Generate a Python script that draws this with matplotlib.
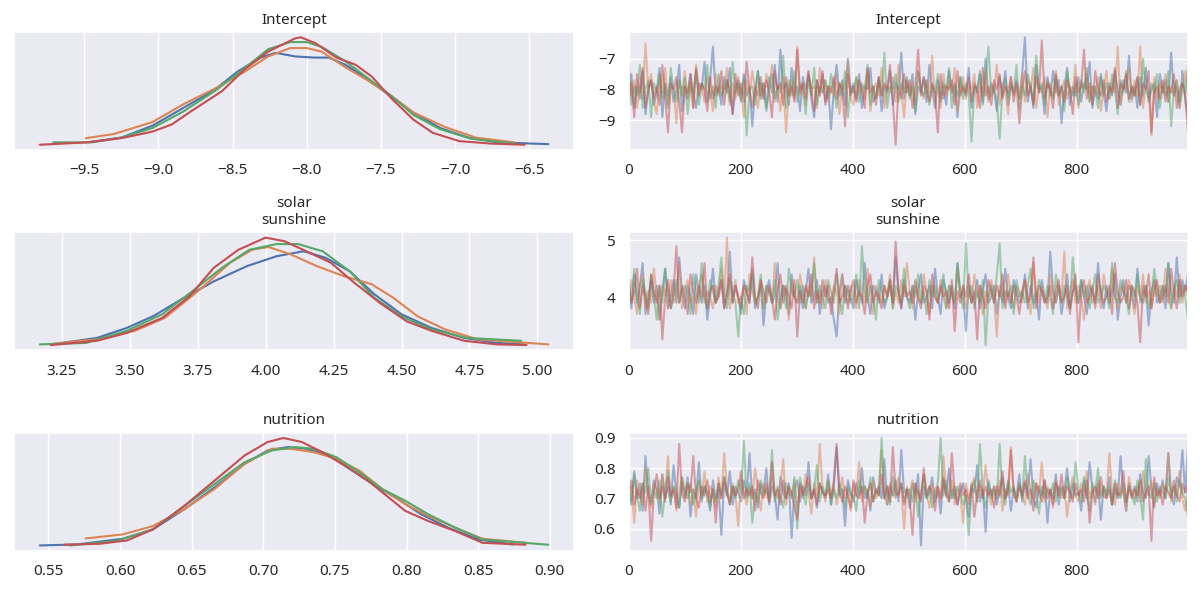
import numpy as np
import matplotlib
matplotlib.use("Agg")
import matplotlib.pyplot as plt
import seaborn as sns
from matplotlib.ticker import MultipleLocator

# =========================
# DATA
# =========================
params = ["Intercept", "solar\nsunshine", "nutrition"]
chain_colors = ["#4C72B0", "#DD8452", "#55A868", "#C44E52"]  # blue, orange, green, red

# KDE curves (x, density) per chain
icpt_kde_x = [
    [-9.45, -9.25, -9.04, -8.83, -8.62, -8.47, -8.31, -8.21, -8.08, -7.95, -7.85, -7.74, -7.61, -7.46, -7.28, -7.10, -6.91, -6.71, -6.37],
    [-9.49, -9.30, -9.04, -8.83, -8.62, -8.42, -8.26, -8.11, -8.00, -7.90, -7.74, -7.59, -7.43, -7.28, -7.07, -6.86, -6.60],
    [-9.71, -9.45, -9.25, -9.04, -8.83, -8.62, -8.42, -8.26, -8.11, -8.00, -7.90, -7.74, -7.59, -7.43, -7.28, -7.10, -6.89, -6.60],
    [-9.80, -9.48, -9.25, -9.04, -8.91, -8.78, -8.57, -8.42, -8.26, -8.08, -8.04, -7.94, -7.80, -7.67, -7.56, -7.43, -7.28, -7.15, -6.97, -6.76, -6.53],
]
icpt_kde_y = [
    [0.025, 0.06, 0.16, 0.31, 0.46, 0.61, 0.73, 0.77, 0.74, 0.73, 0.73, 0.67, 0.57, 0.43, 0.27, 0.14, 0.06, 0.02, 0.005],
    [0.055, 0.09, 0.19, 0.34, 0.47, 0.61, 0.74, 0.81, 0.81, 0.78, 0.65, 0.54, 0.41, 0.27, 0.15, 0.06, 0.02],
    [0.02, 0.02, 0.06, 0.14, 0.28, 0.45, 0.64, 0.80, 0.86, 0.86, 0.82, 0.70, 0.56, 0.41, 0.25, 0.13, 0.05, 0.01],
    [0.0, 0.02, 0.055, 0.11, 0.17, 0.28, 0.45, 0.63, 0.78, 0.89, 0.90, 0.85, 0.73, 0.67, 0.57, 0.39, 0.21, 0.10, 0.03, 0.01, 0.0],
]

solar_kde_x = [
    [3.25, 3.38, 3.49, 3.59, 3.70, 3.81, 3.93, 4.04, 4.14, 4.22, 4.31, 4.40, 4.50, 4.61, 4.73, 4.85, 4.95],
    [3.22, 3.38, 3.52, 3.63, 3.76, 3.87, 3.95, 4.01, 4.09, 4.19, 4.29, 4.39, 4.47, 4.56, 4.66, 4.78, 5.04],
    [3.17, 3.34, 3.49, 3.62, 3.73, 3.84, 3.94, 4.04, 4.12, 4.21, 4.31, 4.40, 4.50, 4.61, 4.74, 4.94],
    [3.21, 3.38, 3.49, 3.62, 3.72, 3.81, 3.90, 4.00, 4.07, 4.15, 4.24, 4.32, 4.42, 4.52, 4.61, 4.73, 4.85, 4.96],
]
solar_kde_y = [
    [0.03, 0.10, 0.24, 0.41, 0.66, 0.89, 1.10, 1.24, 1.31, 1.22, 1.03, 0.71, 0.43, 0.24, 0.10, 0.03, 0.01],
    [0.02, 0.08, 0.20, 0.38, 0.78, 1.15, 1.33, 1.37, 1.27, 1.10, 0.96, 0.85, 0.66, 0.40, 0.22, 0.08, 0.01],
    [0.01, 0.03, 0.20, 0.43, 0.75, 1.08, 1.33, 1.41, 1.41, 1.31, 1.03, 0.66, 0.40, 0.22, 0.10, 0.06],
    [0.0, 0.06, 0.17, 0.38, 0.68, 1.08, 1.33, 1.50, 1.45, 1.31, 1.15, 0.89, 0.59, 0.33, 0.20, 0.06, 0.01, 0.0],
]

nutr_kde_x = [
    [0.544, 0.570, 0.602, 0.623, 0.645, 0.666, 0.687, 0.703, 0.717, 0.730, 0.746, 0.762, 0.778, 0.794, 0.810, 0.829, 0.850, 0.874],
    [0.576, 0.602, 0.623, 0.645, 0.666, 0.687, 0.706, 0.719, 0.735, 0.751, 0.767, 0.783, 0.799, 0.815, 0.834, 0.853, 0.883],
    [0.565, 0.597, 0.623, 0.645, 0.666, 0.687, 0.706, 0.722, 0.735, 0.751, 0.767, 0.783, 0.799, 0.815, 0.834, 0.853, 0.899],
    [0.561, 0.586, 0.605, 0.623, 0.645, 0.666, 0.687, 0.703, 0.714, 0.727, 0.741, 0.757, 0.773, 0.786, 0.799, 0.815, 0.834, 0.853, 0.883],
]
nutr_kde_y = [
    [0.0, 0.07, 0.48, 1.15, 2.60, 4.16, 5.84, 6.80, 7.04, 6.92, 6.44, 5.36, 4.28, 3.32, 2.24, 1.27, 0.43, 0.07],
    [0.50, 0.79, 1.39, 2.60, 4.04, 5.84, 6.92, 6.92, 6.68, 6.20, 5.36, 4.04, 2.96, 2.12, 1.27, 0.48, 0.19],
    [0.0, 0.31, 1.15, 2.84, 4.40, 5.96, 6.80, 7.04, 6.92, 6.32, 5.24, 4.04, 3.20, 2.24, 1.27, 0.43, 0.05],
    [0.05, 0.12, 0.36, 1.15, 2.84, 4.64, 6.44, 7.40, 7.69, 7.40, 6.68, 5.72, 4.64, 3.56, 2.48, 1.75, 1.03, 0.19, 0.05],
]

# trace values (every 5th draw, estimated from the right column)
icpt_trace = [
    [-8.2,-7.5,-8.6,-7.9,-8.3,-7.4,-8.8,-8.0,-7.7,-8.5, -8.1,-7.3,-8.9,-7.8,-8.2,-7.6,-8.4,-8.0,-7.2,-8.7,
     -7.9,-8.3,-7.5,-8.1,-8.6,-7.8,-8.0,-7.1,-8.4,-7.7, -6.6,-8.2,-7.9,-8.5,-7.6,-8.1,-7.3,-8.8,-8.0,-7.7,
     -8.4,-7.5,-8.2,-7.9,-9.2,-8.0,-7.4,-8.3,-7.8,-8.6, -7.6,-8.1,-7.2,-8.4,-6.7,-8.0,-7.8,-8.5,-7.3,-8.2,
     -7.9,-8.7,-7.6,-8.0,-7.4,-8.3,-8.9,-7.7,-8.1,-7.5, -8.4,-7.9,-9.3,-8.0,-7.2,-8.2,-7.7,-8.5,-7.0,-8.1,
     -7.8,-8.3,-7.5,-8.6,-7.9,-8.0,-7.3,-8.4,-8.2,-7.6, -8.7,-7.9,-8.1,-7.4,-8.5,-7.8,-8.0,-6.8,-8.3,-7.7,
     -8.2,-7.5,-8.8,-7.9,-8.1,-7.6,-8.4,-7.2,-8.0,-8.6, -7.7,-8.3,-7.9,-8.5,-7.4,-8.1,-7.8,-8.9,-7.6,-8.0,
     -8.2,-7.3,-8.6,-7.9,-8.1,-7.5,-8.4,-7.0,-8.3,-7.8, -8.0,-8.7,-7.6,-8.2,-7.4,-8.5,-7.9,-8.1,-7.7,-8.3,
     -7.5,-6.3,-8.4,-7.8,-8.6,-7.2,-8.0,-7.9,-8.8,-7.6, -8.2,-7.4,-8.1,-7.7,-9.1,-8.0,-7.3,-8.5,-7.9,-8.2,
     -7.6,-8.4,-7.8,-8.0,-7.1,-8.6,-7.9,-8.3,-7.5,-8.1, -8.7,-7.8,-8.2,-7.4,-8.0,-8.5,-7.7,-8.1,-6.9,-8.3,
     -7.9,-8.6,-7.6,-8.2,-7.3,-8.4,-8.0,-7.8,-8.9,-7.5, -8.1,-7.7,-8.4,-6.8,-8.2,-7.9,-8.6,-7.4,-8.3,-8.9],
    [-7.1,-8.2,-7.7,-8.6,-7.9,-8.3,-6.5,-8.0,-7.5,-8.4, -8.8,-7.6,-8.1,-7.3,-8.5,-7.9,-8.0,-9.1,-7.7,-8.2,
     -7.4,-8.3,-7.8,-8.6,-7.2,-8.0,-7.9,-8.4,-7.6,-8.1, -8.7,-7.5,-8.2,-7.9,-8.0,-7.3,-8.5,-7.8,-8.3,-7.6,
     -8.1,-8.9,-7.7,-8.2,-7.4,-8.0,-8.6,-7.8,-8.3,-7.5, -8.0,-7.2,-8.4,-7.9,-8.7,-7.6,-9.4,-8.1,-7.7,-8.3,
     -6.6,-8.2,-7.8,-8.5,-7.4,-8.0,-7.9,-8.6,-7.3,-8.1, -7.7,-8.4,-7.9,-8.2,-7.5,-8.8,-7.8,-8.0,-7.1,-8.3,
     -8.5,-7.6,-8.1,-7.9,-8.3,-7.4,-8.7,-8.0,-7.8,-8.2, -7.3,-8.6,-7.9,-8.1,-7.6,-8.4,-7.2,-8.0,-8.9,-7.7,
     -8.2,-7.8,-8.5,-7.4,-8.0,-8.3,-7.7,-8.1,-6.9,-8.4, -7.9,-8.6,-7.5,-8.2,-7.8,-8.0,-7.3,-8.7,-8.1,-7.6,
     -8.3,-7.9,-8.0,-7.5,-8.6,-7.8,-8.2,-7.4,-8.4,-7.9, -8.1,-7.2,-8.5,-7.8,-8.0,-8.8,-7.6,-8.2,-7.9,-8.3,
     -7.5,-8.4,-7.7,-8.0,-7.3,-8.6,-7.9,-8.1,-7.6,-8.9, -7.8,-8.2,-7.4,-8.5,-8.0,-7.7,-8.3,-7.9,-8.1,-7.2,
     -8.6,-7.8,-8.0,-7.5,-8.4,-7.9,-8.2,-7.6,-8.7,-8.0, -7.4,-8.3,-7.8,-8.1,-6.6,-8.5,-7.9,-8.0,-7.3,-8.4,
     -7.7,-8.2,-6.6,-8.6,-7.9,-8.0,-9.5,-7.6,-8.3,-7.8, -8.1,-7.5,-8.4,-7.9,-8.2,-7.7,-8.6,-8.0,-7.4,-8.3],
    [-7.4,-8.5,-7.9,-8.2,-7.2,-8.6,-8.0,-7.7,-8.9,-7.8, -8.1,-7.5,-8.3,-7.9,-8.6,-7.3,-8.0,-8.4,-7.7,-8.2,
     -7.6,-8.8,-7.9,-8.1,-7.4,-8.5,-7.8,-8.0,-7.2,-8.3, -7.9,-8.6,-7.5,-8.2,-8.0,-7.7,-8.4,-7.1,-8.1,-7.8,
     -8.3,-7.6,-9.5,-8.0,-7.9,-8.5,-7.4,-8.2,-7.8,-8.7, -8.0,-7.5,-8.3,-7.9,-8.1,-6.9,-8.6,-7.7,-8.2,-7.4,
     -8.4,-7.8,-8.0,-8.8,-7.6,-8.2,-7.3,-8.5,-7.9,-8.1, -7.7,-8.3,-7.5,-8.0,-8.6,-7.8,-8.2,-7.4,-8.9,-7.9,
     -8.1,-7.6,-8.4,-7.8,-8.0,-7.2,-8.5,-7.9,-8.3,-7.7, -8.2,-6.8,-8.6,-7.9,-8.0,-7.5,-8.4,-7.8,-8.1,-7.6,
     -8.3,-7.9,-8.7,-7.4,-8.0,-8.2,-7.7,-8.5,-7.9,-8.1, -7.5,-8.4,-7.8,-8.0,-7.3,-8.6,-7.9,-8.2,-7.6,-8.3,
     -7.8,-8.1,-9.7,-7.9,-8.0,-7.4,-8.5,-7.7,-6.6,-8.2, -7.9,-8.4,-9.6,-8.0,-7.6,-8.3,-7.8,-8.1,-7.2,-8.6,
     -7.9,-8.2,-7.5,-8.0,-8.4,-6.9,-8.1,-7.8,-8.5,-7.7, -8.0,-8.3,-7.6,-8.2,-7.9,-8.7,-7.4,-8.0,-8.2,-7.8,
     -8.5,-7.7,-8.1,-7.3,-8.4,-7.9,-8.0,-8.6,-7.6,-8.2, -7.8,-8.3,-7.5,-8.0,-8.8,-7.7,-8.1,-7.4,-8.4,-7.9,
     -8.2,-7.6,-8.5,-7.0,-8.0,-8.3,-7.8,-8.1,-7.5,-8.6, -7.9,-8.2,-7.4,-9.2,-8.0,-7.7,-8.4,-7.8,-8.1,-7.2],
    [-8.4,-7.8,-8.9,-7.5,-8.1,-7.3,-8.6,-8.0,-7.7,-8.3, -7.9,-8.5,-7.2,-8.2,-9.4,-7.8,-8.0,-7.6,-8.4,-9.4,
     -7.9,-8.1,-7.5,-8.6,-7.3,-8.2,-7.8,-8.0,-8.7,-7.6, -8.3,-7.9,-8.1,-7.4,-8.5,-7.7,-8.0,-8.8,-7.5,-8.2,
     -7.8,-8.4,-7.1,-8.0,-8.6,-7.9,-8.2,-7.6,-8.3,-7.7, -8.1,-8.9,-7.4,-8.0,-7.8,-8.5,-7.6,-8.2,-7.9,-8.4,
     -6.7,-8.1,-7.8,-8.3,-7.5,-8.0,-8.7,-7.7,-8.2,-7.4, -8.5,-7.9,-8.1,-7.6,-8.3,-7.8,-8.0,-9.2,-7.5,-8.2,
     -7.9,-8.4,-7.7,-8.0,-8.6,-7.3,-8.1,-7.9,-8.5,-7.6, -8.2,-7.8,-8.0,-7.2,-8.4,-9.8,-7.9,-8.3,-7.5,-8.1,
     -7.7,-8.6,-7.9,-6.7,-8.2,-7.6,-8.0,-8.4,-7.8,-8.1, -9.4,-7.5,-8.3,-7.9,-8.0,-7.7,-8.5,-7.4,-8.2,-7.9,
     -8.1,-7.6,-8.4,-7.8,-8.0,-8.6,-7.3,-8.2,-7.9,-8.5, -7.7,-8.0,-7.5,-8.3,-7.9,-8.1,-7.6,-8.4,-7.8,-9.1,
     -8.0,-7.4,-8.2,-7.9,-8.5,-7.6,-8.1,-6.4,-8.3,-7.8, -8.0,-8.6,-7.5,-8.2,-7.9,-8.4,-7.7,-8.0,-8.8,-7.6,
     -8.1,-7.9,-6.7,-8.3,-7.8,-8.5,-7.4,-8.0,-8.2,-7.7, -8.4,-7.9,-8.1,-7.3,-8.6,-7.8,-8.0,-7.5,-8.3,-7.9,
     -8.2,-7.6,-8.5,-7.8,-8.0,-7.4,-9.4,-8.1,-7.9,-8.3, -7.7,-8.4,-7.9,-8.1,-7.5,-8.6,-8.0,-7.8,-8.2,-9.4],
]

solar_trace = [
    [4.1,3.8,4.4,3.9,4.2,4.6,3.7,4.0,4.3,3.9, 4.2,3.6,4.1,4.5,3.8,4.0,4.3,3.9,4.7,4.1,
     3.8,4.2,4.0,3.7,4.4,4.1,3.9,4.2,3.6,4.0, 4.5,3.9,4.1,4.3,3.8,4.0,4.8,3.9,4.2,4.0,
     3.7,4.3,4.1,3.9,4.4,3.8,4.0,4.2,3.5,4.1, 4.3,3.9,4.0,4.6,3.8,4.2,4.1,3.7,4.4,4.0,
     3.9,4.2,3.8,4.1,4.5,3.9,4.0,4.3,3.7,4.1, 4.2,3.9,4.0,3.6,3.3,4.1,4.4,3.9,4.2,4.0,
     3.8,4.3,4.1,3.9,4.6,4.0,3.7,4.2,4.1,3.9, 4.4,3.8,4.0,4.2,3.9,4.7,4.1,3.8,4.3,4.0,
     3.9,4.2,3.6,4.1,4.4,3.9,4.0,4.2,3.8,4.5, 4.0,3.7,4.3,4.1,3.9,4.2,3.8,4.6,4.0,4.1,
     3.4,4.2,3.9,4.0,4.3,3.8,4.1,4.4,3.9,4.0, 4.2,3.7,4.1,3.9,4.5,4.0,3.8,4.3,4.1,3.9,
     4.0,4.4,3.8,4.2,3.9,4.1,3.6,4.3,4.0,3.9, 4.8,4.1,3.9,4.2,3.7,4.0,4.4,3.8,4.1,4.2,
     3.9,4.3,4.0,3.7,4.2,4.1,3.9,4.6,4.0,3.8, 4.2,3.9,4.1,4.4,3.6,4.0,4.3,3.9,4.2,4.1,
     3.8,4.5,4.0,3.9,4.2,3.5,4.1,4.3,3.9,4.0, 4.2,3.8,4.6,4.1,3.9,4.7,4.0,4.3,4.1,4.4],
    [3.9,4.3,4.0,3.7,4.2,4.4,3.8,4.1,3.9,4.5, 4.0,3.6,4.2,4.1,3.8,4.3,3.9,4.0,4.6,3.8,
     4.1,4.3,3.9,4.0,3.7,4.2,4.4,3.9,4.1,4.0, 3.8,4.2,4.0,4.5,3.9,5.05,3.8,4.1,4.3,3.9,
     4.0,4.2,3.7,4.4,4.1,3.9,4.0,4.3,3.8,4.2, 4.1,3.9,4.6,4.0,3.8,4.2,4.1,3.6,4.3,4.0,
     3.9,4.4,4.1,3.8,4.2,4.0,4.7,3.9,4.1,3.8, 4.3,4.0,3.9,4.2,4.1,3.7,4.4,4.0,3.9,4.2,
     4.0,3.8,4.3,4.1,3.9,4.5,4.0,3.7,4.2,4.1, 3.9,4.2,4.0,4.4,3.8,4.1,3.9,4.3,4.0,4.6,
     4.1,3.8,4.2,4.0,3.9,4.4,4.1,3.7,4.2,4.0, 3.9,4.3,4.0,3.8,4.2,4.1,3.9,4.5,4.0,4.2,
     3.8,4.1,3.9,4.4,4.0,4.2,3.7,4.1,3.9,4.3, 4.0,3.3,4.2,4.1,3.9,4.4,4.0,3.8,4.2,4.1,
     3.9,4.3,4.0,3.7,4.6,4.1,3.9,4.2,4.0,3.8, 4.4,4.1,3.9,4.2,4.0,4.8,3.8,4.1,4.3,3.9,
     4.2,4.0,3.6,4.1,4.3,3.9,4.0,4.2,3.8,4.4, 4.1,3.9,4.5,4.0,3.8,4.2,4.1,3.9,4.3,4.0,
     3.7,4.2,4.0,4.4,3.9,4.1,3.8,4.3,4.0,4.2, 3.9,4.5,4.1,3.8,4.2,4.0,4.4,3.9,4.2,4.0],
    [4.2,3.9,4.5,4.0,3.7,4.3,4.1,3.8,4.4,4.0, 3.6,4.2,3.9,4.5,4.1,3.8,4.0,4.3,3.9,4.1,
     4.2,4.0,3.7,4.4,4.1,3.9,4.6,4.0,3.8,4.3, 4.1,3.9,4.2,4.7,4.0,3.8,4.3,4.1,3.9,3.3,
     4.0,3.7,4.2,4.1,4.5,3.9,4.0,4.4,3.8,4.2, 4.1,3.9,4.3,3.6,4.0,4.2,3.8,4.5,4.1,4.0,
     4.3,3.9,4.2,3.8,4.1,4.0,4.6,3.9,4.2,4.0, 3.8,4.3,4.1,3.9,4.4,4.0,3.7,4.2,4.1,3.9,
     4.0,4.4,3.8,4.9,4.1,3.9,4.2,4.0,3.6,4.3, 4.1,3.9,4.0,4.3,3.8,4.2,4.1,3.9,4.5,4.0,
     3.8,4.2,4.0,4.4,3.9,4.1,3.7,4.3,4.0,4.2, 3.9,4.1,4.4,3.8,4.2,4.0,3.9,4.6,4.1,3.8,
     4.95,4.0,4.2,3.8,4.1,3.9,4.3,3.15,4.0,4.2, 3.9,4.4,4.95,3.8,4.1,4.0,4.2,3.7,4.3,4.0,
     4.1,3.9,4.2,4.5,3.8,4.0,4.3,4.1,3.9,4.2, 4.0,3.7,4.4,4.1,3.9,4.2,4.0,3.8,4.7,4.1,
     3.9,4.3,4.0,4.2,3.8,4.1,4.4,3.9,4.0,4.2, 4.1,3.8,4.6,4.0,3.9,4.3,4.1,4.0,3.7,4.2,
     4.0,4.4,3.9,4.1,4.2,3.8,4.0,4.5,4.1,3.9, 4.2,4.0,4.6,3.8,4.1,4.3,3.9,4.2,4.0,3.6],
    [4.3,3.9,4.1,4.5,3.8,4.2,4.0,3.7,4.4,4.1, 3.9,4.2,3.25,4.0,4.3,3.8,4.1,4.9,3.9,4.2,
     4.0,3.7,4.4,4.1,3.9,4.2,4.0,4.6,3.8,4.1, 4.2,3.9,4.0,4.3,3.8,4.1,4.4,3.9,4.2,4.0,
     3.8,4.2,4.1,3.9,4.7,4.0,3.8,4.3,4.1,3.9, 4.2,4.0,3.6,4.1,4.4,3.9,4.2,4.0,3.8,4.3,
     3.3,4.1,3.9,4.2,4.0,4.4,3.8,4.1,3.9,4.3, 4.0,4.2,3.7,4.1,4.5,3.9,4.0,4.2,3.8,4.1,
     4.3,3.9,4.1,4.0,3.7,4.2,4.4,3.9,4.1,4.0, 3.8,4.2,4.0,4.3,3.9,4.98,4.1,3.8,4.2,4.0,
     4.1,3.9,4.3,4.0,3.8,4.2,4.1,3.6,4.4,4.0, 3.9,4.2,4.0,4.1,3.8,4.3,3.4,4.1,3.9,4.2,
     4.0,4.4,3.9,4.1,3.25,4.2,4.0,3.8,4.3,4.1, 3.9,4.2,4.0,4.4,3.8,4.1,3.9,4.2,4.0,3.7,
     4.1,4.3,3.9,4.0,4.7,3.8,4.2,4.1,3.9,4.0, 4.2,3.8,4.1,4.3,3.9,4.0,4.2,3.7,4.1,4.4,
     3.2,4.1,4.3,3.9,4.0,4.2,3.8,4.4,4.1,3.9, 4.0,4.2,3.7,4.6,4.1,3.9,4.0,4.3,3.8,4.2,
     4.1,3.9,3.2,4.2,4.0,4.4,3.8,4.1,4.3,3.9, 4.0,4.2,3.9,4.5,4.1,3.8,4.3,4.0,4.2,4.1],
]

nutr_trace = [
    [0.72,0.68,0.79,0.70,0.75,0.66,0.84,0.71,0.69,0.76, 0.73,0.65,0.78,0.70,0.74,0.68,0.81,0.72,0.67,0.75,
     0.71,0.77,0.64,0.73,0.70,0.82,0.69,0.74,0.72,0.66, 0.76,0.70,0.73,0.58,0.75,0.71,0.79,0.68,0.74,0.72,
     0.69,0.76,0.71,0.85,0.70,0.73,0.67,0.75,0.72,0.80, 0.68,0.74,0.71,0.63,0.77,0.72,0.70,0.75,0.57,0.73,
     0.76,0.69,0.74,0.71,0.82,0.70,0.73,0.67,0.75,0.72, 0.70,0.78,0.68,0.74,0.87,0.71,0.73,0.61,0.76,0.72,
     0.69,0.75,0.71,0.80,0.70,0.73,0.66,0.77,0.72,0.74, 0.70,0.83,0.68,0.74,0.71,0.76,0.69,0.86,0.72,0.73,
     0.67,0.75,0.71,0.78,0.545,0.74,0.70,0.72,0.77,0.69, 0.73,0.65,0.76,0.71,0.80,0.70,0.74,0.68,0.72,0.75,
     0.70,0.64,0.74,0.72,0.81,0.69,0.73,0.59,0.76,0.71, 0.74,0.68,0.72,0.77,0.70,0.75,0.66,0.73,0.71,0.78,
     0.69,0.75,0.72,0.83,0.70,0.67,0.74,0.71,0.76,0.62, 0.73,0.70,0.78,0.68,0.74,0.72,0.80,0.69,0.75,0.71,
     0.72,0.66,0.76,0.70,0.82,0.73,0.69,0.75,0.63,0.74, 0.71,0.77,0.68,0.73,0.70,0.84,0.72,0.66,0.75,0.71,
     0.74,0.69,0.78,0.72,0.70,0.84,0.73,0.67,0.75,0.71, 0.76,0.70,0.85,0.72,0.68,0.77,0.74,0.86,0.72,0.87],
    [0.70,0.74,0.62,0.76,0.71,0.68,0.80,0.72,0.67,0.75, 0.73,0.69,0.78,0.71,0.84,0.70,0.74,0.66,0.72,0.77,
     0.70,0.75,0.68,0.73,0.64,0.76,0.71,0.79,0.69,0.74, 0.72,0.67,0.77,0.70,0.85,0.73,0.69,0.75,0.71,0.61,
     0.76,0.72,0.68,0.74,0.70,0.80,0.73,0.66,0.75,0.71, 0.69,0.77,0.72,0.70,0.74,0.83,0.68,0.73,0.71,0.76,
     0.67,0.74,0.70,0.78,0.72,0.65,0.75,0.71,0.88,0.73, 0.69,0.76,0.71,0.74,0.68,0.72,0.77,0.70,0.73,0.66,
     0.75,0.71,0.82,0.69,0.74,0.72,0.67,0.76,0.70,0.73, 0.86,0.71,0.68,0.75,0.72,0.70,0.77,0.73,0.60,0.74,
     0.71,0.76,0.69,0.73,0.70,0.78,0.72,0.67,0.75,0.71, 0.74,0.69,0.84,0.72,0.70,0.76,0.68,0.73,0.71,0.62,
     0.75,0.70,0.73,0.77,0.69,0.74,0.71,0.81,0.72,0.68, 0.74,0.70,0.76,0.66,0.73,0.71,0.87,0.72,0.69,0.75,
     0.71,0.68,0.78,0.73,0.70,0.75,0.72,0.82,0.69,0.74, 0.71,0.67,0.76,0.72,0.70,0.74,0.64,0.73,0.77,0.71,
     0.69,0.75,0.72,0.79,0.70,0.73,0.68,0.76,0.71,0.74, 0.70,0.85,0.72,0.68,0.75,0.71,0.73,0.66,0.77,0.72,
     0.70,0.74,0.69,0.79,0.72,0.71,0.76,0.68,0.73,0.70, 0.75,0.72,0.85,0.69,0.74,0.71,0.79,0.70,0.66,0.73],
    [0.74,0.69,0.78,0.71,0.66,0.75,0.72,0.80,0.68,0.73, 0.70,0.76,0.64,0.72,0.79,0.69,0.74,0.71,0.67,0.77,
     0.73,0.70,0.75,0.68,0.72,0.76,0.70,0.74,0.71,0.67, 0.73,0.69,0.75,0.71,0.77,0.72,0.68,0.74,0.70,0.76,
     0.72,0.89,0.70,0.75,0.62,0.72,0.69,0.76,0.71,0.73, 0.70,0.86,0.69,0.74,0.71,0.67,0.75,0.72,0.70,0.77,
     0.60,0.77,0.72,0.68,0.75,0.70,0.73,0.81,0.69,0.74, 0.71,0.76,0.68,0.73,0.70,0.75,0.72,0.67,0.74,0.71,
     0.71,0.66,0.76,0.72,0.74,0.70,0.77,0.69,0.73,0.71, 0.90,0.70,0.74,0.68,0.77,0.71,0.72,0.75,0.69,0.73,
     0.73,0.69,0.75,0.64,0.72,0.78,0.70,0.74,0.67,0.72, 0.75,0.90,0.71,0.76,0.69,0.73,0.70,0.74,0.72,0.68,
     0.71,0.58,0.73,0.76,0.69,0.88,0.72,0.67,0.75,0.70, 0.73,0.70,0.88,0.71,0.68,0.76,0.72,0.74,0.69,0.75,
     0.70,0.84,0.71,0.68,0.76,0.72,0.65,0.74,0.70,0.73, 0.71,0.75,0.69,0.74,0.72,0.70,0.77,0.73,0.70,0.82,
     0.73,0.69,0.77,0.71,0.66,0.75,0.72,0.80,0.70,0.74, 0.71,0.74,0.68,0.76,0.72,0.70,0.75,0.69,0.73,0.71,
     0.68,0.76,0.71,0.63,0.83,0.72,0.70,0.75,0.69,0.74, 0.72,0.70,0.77,0.71,0.74,0.69,0.76,0.72,0.70,0.64],
    [0.71,0.76,0.68,0.73,0.70,0.75,0.66,0.74,0.56,0.72, 0.78,0.70,0.74,0.69,0.77,0.71,0.73,0.67,0.88,0.72,
     0.69,0.75,0.72,0.84,0.70,0.67,0.74,0.71,0.76,0.69, 0.73,0.62,0.75,0.70,0.77,0.72,0.68,0.74,0.71,0.73,
     0.79,0.70,0.73,0.71,0.74,0.66,0.76,0.72,0.70,0.75, 0.69,0.82,0.71,0.73,0.68,0.76,0.70,0.74,0.72,0.67,
     0.63,0.75,0.71,0.74,0.77,0.70,0.73,0.68,0.75,0.72, 0.71,0.73,0.70,0.76,0.88,0.72,0.69,0.74,0.71,0.67,
     0.76,0.71,0.70,0.74,0.62,0.72,0.75,0.69,0.73,0.71, 0.78,0.70,0.74,0.69,0.87,0.72,0.71,0.75,0.68,0.73,
     0.70,0.58,0.75,0.72,0.69,0.80,0.71,0.74,0.72,0.66, 0.74,0.70,0.77,0.71,0.69,0.85,0.72,0.68,0.75,0.71,
     0.73,0.68,0.75,0.64,0.72,0.76,0.70,0.74,0.71,0.73, 0.67,0.74,0.71,0.79,0.70,0.73,0.86,0.72,0.69,0.74,
     0.71,0.76,0.70,0.73,0.66,0.75,0.72,0.69,0.76,0.70, 0.73,0.68,0.75,0.71,0.78,0.70,0.74,0.72,0.69,0.75,
     0.71,0.73,0.69,0.76,0.62,0.72,0.74,0.70,0.77,0.71, 0.70,0.73,0.68,0.75,0.71,0.72,0.79,0.69,0.74,0.70,
     0.73,0.71,0.76,0.69,0.72,0.74,0.56,0.77,0.71,0.73, 0.68,0.74,0.72,0.70,0.76,0.71,0.69,0.75,0.72,0.75],
]

n_draws = 1000

# =========================
# STYLE
# =========================
sns.set_theme(style="darkgrid")
plt.rcParams["font.family"] = ["Noto Sans", "DejaVu Sans"]

fig, axes = plt.subplots(3, 2, figsize=(12, 5.91), dpi=100)
fig.subplots_adjust(left=0.012, right=0.99, top=0.946, bottom=0.068,
                    wspace=0.098, hspace=0.695)

kde_x = [icpt_kde_x, solar_kde_x, nutr_kde_x]
kde_y = [icpt_kde_y, solar_kde_y, nutr_kde_y]
traces = [icpt_trace, solar_trace, nutr_trace]
y_steps = [1, 1, 0.1]

for row in range(3):
    ax_kde = axes[row, 0]
    ax_tr = axes[row, 1]

    # density
    for c in range(4):
        ax_kde.plot(kde_x[row][c], kde_y[row][c], color=chain_colors[c], lw=1.5)
    ax_kde.set_yticks([])
    ax_kde.set_title(params[row], fontsize=11)
    ax_kde.tick_params(axis="x", labelsize=11)

    # trace
    for c in range(4):
        vals = traces[row][c]
        draws = np.linspace(0, n_draws - 1, len(vals))
        ax_tr.plot(draws, vals, color=chain_colors[c], lw=1.5, alpha=0.5)
    ax_tr.set_xlim(0, n_draws - 1)
    ax_tr.yaxis.set_major_locator(MultipleLocator(y_steps[row]))
    ax_tr.set_title(params[row], fontsize=11)
    ax_tr.tick_params(labelsize=11)

fig.savefig("out.png", dpi=100)
